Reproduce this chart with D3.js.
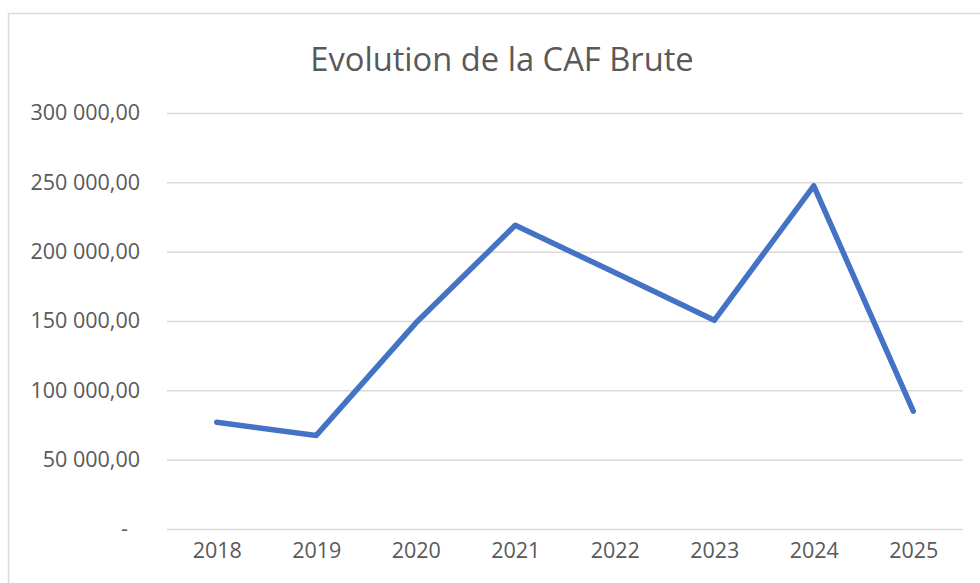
<!DOCTYPE html>
<html>
<head>
<meta charset="utf-8">
<script src="https://cdn.jsdelivr.net/npm/d3@7"></script>
<style>
  body { margin: 0; background: #fff; }
  text { font-family: "Open Sans", sans-serif; fill: #595959; }
</style>
</head>
<body>
<div id="chart"></div>
<script>
// Chart data
var years = ["2018", "2019", "2020", "2021", "2022", "2023", "2024", "2025"];
var cafBrute = [77000, 67500, 148500, 219000, 185000, 150500, 247500, 85000];
var yTicks = [0, 50000, 100000, 150000, 200000, 250000, 300000];
var chartTitle = "Evolution de la CAF Brute";

// Define height & width of svg
var svgWidth = 980;
var svgHeight = 583;

// Plot area bounds
var margin = { top: 113, right: 17, bottom: 54, left: 167 };
var width = svgWidth - margin.left - margin.right;
var height = svgHeight - margin.top - margin.bottom;

var svg = d3.select("#chart")
    .append("svg")
    .attr("width", svgWidth)
    .attr("height", svgHeight);

// Chart area border (Excel style)
svg.append("rect")
    .attr("x", 8.5)
    .attr("y", 13.5)
    .attr("width", 1000)
    .attr("height", 600)
    .attr("fill", "#fff")
    .attr("stroke", "#d9d9d9")
    .attr("stroke-width", 1.5);

var chartGroup = svg.append("g")
    .attr("transform", `translate(${margin.left}, ${margin.top})`);

// Scales
var xScale = d3.scalePoint()
    .domain(years)
    .range([0, width])
    .padding(0.5);

var yScale = d3.scaleLinear()
    .domain([0, 300000])
    .range([height, 0]);

// Number format like "300 000,00"
var frLocale = d3.formatLocale({ decimal: ",", thousands: "\u00a0", grouping: [3], currency: ["", " €"] });
var fmt = frLocale.format(",.2f");

// Y axis with gridlines
var leftAxis = d3.axisLeft(yScale)
    .tickValues(yTicks)
    .tickSize(-width)
    .tickPadding(27)
    .tickFormat(d => d === 0 ? "-" : fmt(d));

var yAxisG = chartGroup.append("g").call(leftAxis);
yAxisG.select(".domain").remove();
yAxisG.selectAll(".tick line")
    .attr("stroke", "#d9d9d9")
    .attr("stroke-width", 1.5);
yAxisG.selectAll(".tick text")
    .style("font-size", "21.5px")
    .attr("fill", "#595959")
    .attr("dx", d => d === 0 ? -12 : 0);

// X axis labels
var bottomAxis = d3.axisBottom(xScale)
    .tickSize(0)
    .tickPadding(14);

var xAxisG = chartGroup.append("g")
    .attr("transform", `translate(0, ${height})`)
    .call(bottomAxis);
xAxisG.select(".domain").remove();
xAxisG.selectAll(".tick text")
    .style("font-size", "21.5px")
    .attr("fill", "#595959");

// Line
var line = d3.line()
    .x((d, i) => xScale(years[i]))
    .y(d => yScale(d));

chartGroup.append("path")
    .datum(cafBrute)
    .attr("fill", "none")
    .attr("stroke", "#4472c4")
    .attr("stroke-width", 5.5)
    .attr("stroke-linejoin", "round")
    .attr("stroke-linecap", "round")
    .attr("d", line);

// Title
svg.append("text")
    .attr("x", 502)
    .attr("y", 71)
    .attr("text-anchor", "middle")
    .style("font-size", "32.7px")
    .text(chartTitle);
</script>
</body>
</html>
